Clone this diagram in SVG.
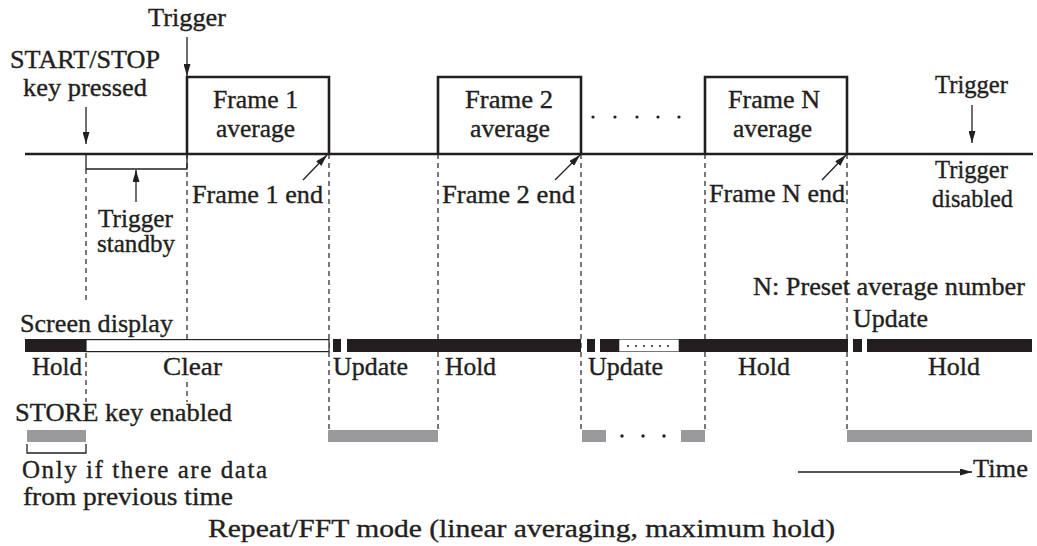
<svg xmlns="http://www.w3.org/2000/svg" width="1037" height="546" viewBox="0 0 1037 546" font-family="'Liberation Serif', 'Times New Roman', serif">
<style>
text{font-family:'Liberation Serif','Times New Roman',serif;font-size:25px;fill:#231f20;stroke:#231f20;stroke-width:0.35}
.thick{fill:none;stroke:#231f20;stroke-width:2.6}
.thin{fill:none;stroke:#231f20;stroke-width:1.3}
.dash{fill:none;stroke:#231f20;stroke-width:1.2;stroke-dasharray:5,4}
.blk{fill:#231f20}
.gray{fill:#9a9a9c}
.wbox{fill:#fff;stroke:#231f20;stroke-width:1.2}
.arr{fill:none;stroke:#231f20;stroke-width:1.3;marker-end:url(#ah)}
</style>
<defs>
<marker id="ah" viewBox="0 0 12 7" refX="12" refY="3.5" markerWidth="12" markerHeight="7" orient="auto" markerUnits="userSpaceOnUse"><path d="M0,0 L12,3.5 L0,7 z" fill="#231f20"/></marker>
</defs>
<rect width="1037" height="546" fill="#fff"/>

<g id="connectors">
<path class="dash" d="M86,169 V304 M86,353 V402"/>
<path class="dash" d="M187,154 V339 M187,382 V402"/>
<path class="dash" d="M329,154 V430"/>
<path class="dash" d="M438,154 V430"/>
<path class="dash" d="M581,154 V430"/>
<path class="dash" d="M705,154 V430"/>
<path class="dash" d="M847,154 V430"/>
<path class="arr" d="M86,107 V144"/>
<path class="arr" d="M187,37 V76"/>
<path class="arr" d="M136,202 V170"/>
<path class="arr" d="M972,105 V143"/>
<path class="arr" d="M303,180 L327,155"/>
<path class="arr" d="M555,180 L580,155"/>
<path class="arr" d="M822,180 L846,155"/>
<path class="arr" d="M798,472 H972"/>
</g>

<g id="timeline">
<path class="thick" d="M25,154 H1033"/>
</g>

<g id="frame1">
<path class="thick" d="M187,154 V77 H329 V154"/>
<text x="213" y="108" textLength="85" lengthAdjust="spacingAndGlyphs">Frame 1</text>
<text x="216" y="137" textLength="79" lengthAdjust="spacingAndGlyphs">average</text>
</g>
<g id="frame2">
<path class="thick" d="M438,154 V77 H581 V154"/>
<text x="465" y="108" textLength="88" lengthAdjust="spacingAndGlyphs">Frame 2</text>
<text x="470" y="137" textLength="80" lengthAdjust="spacingAndGlyphs">average</text>
</g>
<g id="frameN">
<path class="thick" d="M705,154 V77 H847 V154"/>
<text x="728" y="108" textLength="92" lengthAdjust="spacingAndGlyphs">Frame N</text>
<text x="733" y="137" textLength="79" lengthAdjust="spacingAndGlyphs">average</text>
</g>
<g id="ellipsis-top">
<circle cx="593" cy="117" r="1.6" class="blk"/>
<circle cx="615" cy="117" r="1.6" class="blk"/>
<circle cx="637" cy="117" r="1.6" class="blk"/>
<circle cx="658" cy="117" r="1.6" class="blk"/>
<circle cx="679" cy="117" r="1.6" class="blk"/>
</g>

<g id="standby">
<path class="thin" d="M86,154 V169 H187 V154"/>
<text x="98" y="227" textLength="75" lengthAdjust="spacingAndGlyphs">Trigger</text>
<text x="97" y="252" textLength="78" lengthAdjust="spacingAndGlyphs">standby</text>
</g>

<g id="labels-top">
<text x="148" y="26" textLength="78" lengthAdjust="spacingAndGlyphs">Trigger</text>
<text x="10" y="68" textLength="150" lengthAdjust="spacingAndGlyphs">START/STOP</text>
<text x="23" y="96" textLength="124" lengthAdjust="spacingAndGlyphs">key pressed</text>
<text x="192" y="203" textLength="131" lengthAdjust="spacingAndGlyphs">Frame 1 end</text>
<text x="442" y="203" textLength="133" lengthAdjust="spacingAndGlyphs">Frame 2 end</text>
<text x="709" y="202" textLength="136" lengthAdjust="spacingAndGlyphs">Frame N end</text>
<text x="935" y="93" textLength="73" lengthAdjust="spacingAndGlyphs">Trigger</text>
<text x="935" y="178" textLength="73" lengthAdjust="spacingAndGlyphs">Trigger</text>
<text x="932" y="207" textLength="81" lengthAdjust="spacingAndGlyphs">disabled</text>
<text x="753" y="295" textLength="272" lengthAdjust="spacingAndGlyphs">N: Preset average number</text>
</g>

<g id="screen-display">
<text x="20" y="332" textLength="153" lengthAdjust="spacingAndGlyphs">Screen display</text>
<text x="853" y="327" textLength="75" lengthAdjust="spacingAndGlyphs">Update</text>
<rect class="blk" x="25" y="339" width="61" height="13"/>
<rect class="wbox" x="86" y="339.6" width="243" height="12"/>
<rect class="blk" x="333" y="339" width="8" height="13"/>
<rect class="blk" x="347" y="339" width="234" height="13"/>
<rect class="blk" x="587" y="339" width="8" height="13"/>
<rect class="blk" x="600" y="339" width="19" height="13"/>
<rect class="wbox" x="619" y="339.6" width="60" height="12" style="stroke-width:0.6"/>
<circle cx="628" cy="346" r="1" class="blk"/>
<circle cx="636" cy="346" r="1" class="blk"/>
<circle cx="644" cy="346" r="1" class="blk"/>
<circle cx="652" cy="346" r="1" class="blk"/>
<circle cx="660" cy="346" r="1" class="blk"/>
<circle cx="668" cy="346" r="1" class="blk"/>
<rect class="blk" x="679" y="339" width="169" height="13"/>
<rect class="blk" x="853" y="339" width="9" height="13"/>
<rect class="blk" x="867" y="339" width="165" height="13"/>
<text x="32" y="375" textLength="50" lengthAdjust="spacingAndGlyphs">Hold</text>
<text x="163" y="375" textLength="59" lengthAdjust="spacingAndGlyphs">Clear</text>
<text x="333" y="375" textLength="75" lengthAdjust="spacingAndGlyphs">Update</text>
<text x="445" y="375" textLength="51" lengthAdjust="spacingAndGlyphs">Hold</text>
<text x="588" y="375" textLength="75" lengthAdjust="spacingAndGlyphs">Update</text>
<text x="738" y="375" textLength="52" lengthAdjust="spacingAndGlyphs">Hold</text>
<text x="928" y="375" textLength="52" lengthAdjust="spacingAndGlyphs">Hold</text>
</g>

<g id="store-key">
<text x="15" y="421" textLength="217" lengthAdjust="spacingAndGlyphs">STORE key enabled</text>
<rect class="gray" x="27" y="430" width="59" height="12"/>
<rect class="gray" x="328" y="430" width="110" height="12"/>
<rect class="gray" x="582" y="430" width="24" height="12"/>
<circle cx="622" cy="436" r="1.7" class="blk"/>
<circle cx="643" cy="436" r="1.7" class="blk"/>
<circle cx="664" cy="436" r="1.7" class="blk"/>
<rect class="gray" x="681" y="430" width="24" height="12"/>
<rect class="gray" x="847" y="430" width="185" height="12"/>
<path class="thin" d="M27,444 V453 H86 V444"/>
<text x="22" y="478" textLength="245" lengthAdjust="spacing">Only if there are data</text>
<text x="23" y="505" textLength="210" lengthAdjust="spacingAndGlyphs">from previous time</text>
</g>

<g id="time-axis">
<text x="973" y="477" textLength="55" lengthAdjust="spacingAndGlyphs">Time</text>
</g>

<g id="caption">
<text x="208" y="537" textLength="627" lengthAdjust="spacingAndGlyphs" style="font-size:26px">Repeat/FFT mode (linear averaging, maximum hold)</text>
</g>
</svg>
